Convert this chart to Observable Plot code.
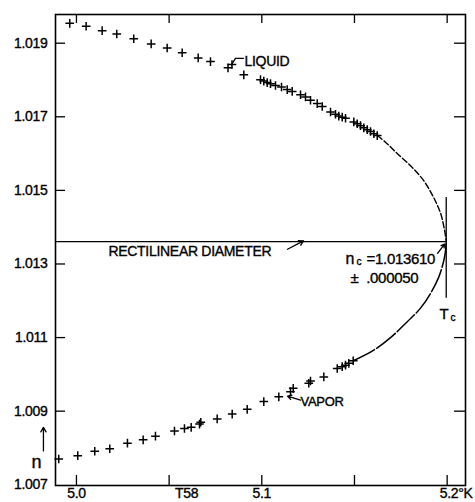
<!DOCTYPE html>
<html><head><meta charset="utf-8">
<script src="https://cdn.jsdelivr.net/npm/d3@7"></script>
<script src="https://cdn.jsdelivr.net/npm/@observablehq/plot@0.6"></script>
<style>
html,body{margin:0;padding:0;background:#fff;}
svg text{letter-spacing:-0.3px;stroke:#000;stroke-width:0.35px;}
</style>
</head><body><div id="chart"></div>
<script>
// Liquid branch (measured points)
const liquidT = [4.99638,5.00523,5.01387,5.02175,5.03092,5.04031,5.04895,5.05704,5.06568,5.07232,5.08176,5.08392,5.09029,
  5.09930,5.10108,5.10292,5.10469,5.10739,5.11063,5.11371,5.11641,5.12089,5.12358,5.12628,5.12990,5.13260,5.13708,5.13977,
  5.14155,5.14339,5.14517,5.14965,5.15148,5.15326,5.15504,5.15688,5.15866,5.16044,5.16228];
const liquidN = [1.01954,1.01946,1.01934,1.01925,1.01912,1.01898,1.01887,1.01874,1.01860,1.01850,1.01833,1.01842,1.01814,
  1.01801,1.01797,1.01793,1.01790,1.01785,1.01781,1.01774,1.01769,1.01760,1.01754,1.01745,1.01736,1.01728,1.01713,1.01707,
  1.01702,1.01699,1.01696,1.01686,1.01681,1.01676,1.01670,1.01665,1.01660,1.01654,1.01649];
// Vapor branch (measured points)
const vaporT = [4.99045,5.00070,5.00988,5.01797,5.02752,5.03600,5.04263,5.05289,5.05828,5.06190,5.06638,5.06708,5.07593,5.08403,
  5.09212,5.10108,5.10918,5.11549,5.11695,5.12536,5.12628,5.13346,5.14069,5.14339,5.14517,5.14695,5.14932];
const vaporN = [1.00770,1.00779,1.00791,1.00798,1.00813,1.00822,1.00832,1.00846,1.00853,1.00856,1.00865,1.00870,1.00879,1.00892,
  1.00905,1.00926,1.00939,1.00953,1.00962,1.00976,1.00982,1.00993,1.01016,1.01021,1.01025,1.01030,1.01037];
// Critical point
const Tc = 5.1995, nc = 1.01361;
// Smooth curves towards the critical point
const liqCurveT = [5.16228,5.16676,5.17307,5.18025,5.18726,5.19266,5.19644,5.19860,Tc];
const liqCurveN = [1.01649,1.01631,1.01600,1.01567,1.01527,1.01481,1.01438,1.01392,nc];
const vapCurveT = [5.14932,5.16044,5.16945,5.17847,5.18564,5.19104,5.19552,5.19822,5.19914,Tc];
const vapCurveN = [1.01037,1.01066,1.01100,1.01143,1.01180,1.01220,1.01265,1.01310,1.01337,nc];

// Axes
const xDomain = [4.9887, 5.2099];
const yDomain = [1.00698, 1.01978];
const xTicks = [5.0,5.05,5.1,5.15,5.2];
const xLabelValues = [5.0,5.1];
const xLabelTexts = ["5.0","5.1"];
const xLastValue = 5.2, xLastText = "5.2°K";
const xTitle = "T58", xTitleAt = 5.0594;
const yTicks = [1.007,1.009,1.011,1.013,1.015,1.017,1.019];
const yTickLabels = ["1.007","1.009","1.011","1.013","1.015","1.017","1.019"];

// Annotations (data coordinates)
const labelText = ["LIQUID","VAPOR","RECTILINEAR DIAMETER","n","=1.013610","±  .000050","T","n"];
const labelX    = [5.09066,5.12089,5.01727,5.14517,5.15650,5.14787,5.19590,4.97572];
const labelY    = [1.01850,1.00925,1.01333,1.01313,1.01313,1.01262,1.01164,1.00762];
const labelSize = [14,13,14,16,15,15,15,18];
const subText = ["c","c"];
const subX = [5.15111,5.20184];
const subY = [1.01305,1.01153];
const arrowX1 = [5.11387,5.19482,5.12089,4.98219];
const arrowY1 = [1.01340,1.01329,1.00930,1.00792];
const arrowX2 = [5.12250,5.19860,5.11387,4.98219];
const arrowY2 = [1.01363,1.01354,1.00941,1.00856];
const leaderT = [5.09012,5.08581,5.08365];
const leaderN = [1.01859,1.01859,1.01842];
const tcLineN = [1.01481,1.01207];

const liquid = liquidT.map((t,i)=>({t, n: liquidN[i]}));
const vapor = vaporT.map((t,i)=>({t, n: vaporN[i]}));
const liqCurve = liqCurveT.map((t,i)=>({t, n: liqCurveN[i]}));
const vapCurve = vapCurveT.map((t,i)=>({t, n: vapCurveN[i]}));
const labels = labelText.map((s,i)=>({s, x: labelX[i], y: labelY[i], f: labelSize[i]}));
const subs = subText.map((s,i)=>({s, x: subX[i], y: subY[i]}));
const arrows = arrowX1.map((x,i)=>({x1:x, y1:arrowY1[i], x2:arrowX2[i], y2:arrowY2[i]}));
const leader = leaderT.map((t,i)=>({t, n: leaderN[i]}));

const chart = Plot.plot({
  width: 475, height: 502,
  marginTop: 14, marginRight: 10, marginBottom: 17, marginLeft: 55,
  style: {fontFamily: "Liberation Sans, Arial, sans-serif", fontSize: "14px", color: "#000", background: "#fff"},
  x: {domain: xDomain},
  y: {domain: yDomain},
  marks: [
    Plot.frame({strokeWidth: 1.6}),
    // inward ticks on all four sides
    Plot.tickY(yTicks.slice(1), {y: d=>d, insetRight: 400, strokeWidth: 1.3}),
    Plot.tickY(yTicks.slice(1), {y: d=>d, insetLeft: 399, strokeWidth: 1.3}),
    Plot.tickX(xTicks, {x: d=>d, insetTop: 461, strokeWidth: 1.3}),
    Plot.tickX(xTicks, {x: d=>d, insetBottom: 462, strokeWidth: 1.3}),
    Plot.axisY(yTicks, {anchor: "left", tickSize: 0, tickPadding: 8, tickFormat: (d,i)=>yTickLabels[i], fontSize: 14}),
    Plot.axisX(xLabelValues, {anchor: "bottom", tickSize: 0, tickPadding: 3, tickFormat: (d,i)=>xLabelTexts[i], fontSize: 14}),
    Plot.axisX([xLastValue], {anchor: "bottom", tickSize: 0, tickPadding: 3, tickFormat: ()=>xLastText, fontSize: 14, dx: 9}),
    Plot.axisX([xTitleAt], {anchor: "bottom", tickSize: 0, tickPadding: 3, tickFormat: ()=>xTitle, fontSize: 14}),
    // rectilinear diameter and Tc
    Plot.ruleY([nc], {x1: xDomain[0], x2: Tc, strokeWidth: 1.3}),
    Plot.ruleX([Tc], {y1: tcLineN[0], y2: tcLineN[1], strokeWidth: 1.3}),
    // curves
    Plot.line(liqCurve, {x: "t", y: "n", curve: "catmull-rom", strokeWidth: 1.4, strokeDasharray: "6,2.5"}),
    Plot.line(vapCurve, {x: "t", y: "n", curve: "catmull-rom", strokeWidth: 1.5, strokeDasharray: "24,2.5"}),
    // data
    Plot.dot(liquid, {x: "t", y: "n", symbol: "plus", r: 2.9, stroke: "#000", strokeWidth: 1.5}),
    Plot.dot(vapor, {x: "t", y: "n", symbol: "plus", r: 2.9, stroke: "#000", strokeWidth: 1.5}),
    // annotations
    Plot.line(leader, {x: "t", y: "n", strokeWidth: 1.3}),
    Plot.arrow(arrows, {x1: "x1", y1: "y1", x2: "x2", y2: "y2", strokeWidth: 1.3, headLength: 6}),
    Plot.text(labels, {x: "x", y: "y", text: "s", fontSize: "f", textAnchor: "start", lineAnchor: "middle"}),
    Plot.text(subs, {x: "x", y: "y", text: "s", fontSize: 10, textAnchor: "start", lineAnchor: "middle"})
  ]
});
document.getElementById("chart").appendChild(chart);
</script>
</body></html>
